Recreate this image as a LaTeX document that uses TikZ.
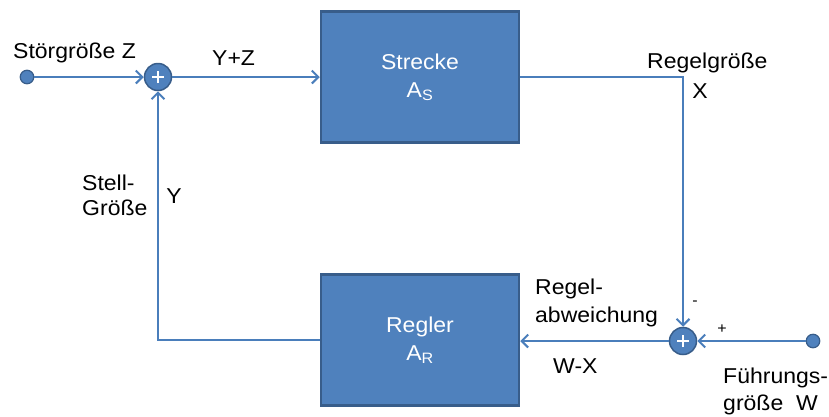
\documentclass[tikz,border=0pt]{standalone}
\usepackage{fontspec}
\setmainfont{Liberation Sans}[FakeStretch=1.07]
\usetikzlibrary{arrows.meta}
\definecolor{boxfill}{HTML}{4F81BD}
\definecolor{boxedge}{HTML}{385D8A}
\definecolor{wire}{HTML}{4A7EBB}
\begin{document}
\begin{tikzpicture}[x=1pt,y=-1pt,
  block/.style={draw=boxedge, line width=2.5pt, fill=boxfill,
    minimum width=198pt, minimum height=131pt, inner sep=0pt,
    text=white, align=center, font=\fontsize{21.5}{28}\selectfont},
  sumnode/.style={circle, draw=boxedge, line width=1.5pt, fill=boxfill,
    minimum size=27pt, inner sep=0pt},
  port/.style={circle, draw=boxedge, line width=1.2pt, fill=boxfill,
    minimum size=13.5pt, inner sep=0pt},
  wire/.style={draw=wire, line width=2pt},
  arr/.style={wire, -{Straight Barb[length=6.5pt,width=13pt,line width=2pt]}},
  lbl/.style={font=\fontsize{21.5}{25}\selectfont, inner sep=0pt, anchor=base west},
  sign/.style={font=\fontsize{15}{15}\selectfont, inner sep=0pt}
]
\useasboundingbox (0,0) rectangle (829,416);

% blocks
\node[block] (strecke) at (420,77) {Strecke\\A\textsubscript{S}};
\node[block] (regler) at (420,340) {Regler\\A\textsubscript{R}};

% summing points
\node[sumnode] (sum1) at (158,77) {};
\node[sumnode] (sum2) at (683,341) {};
\foreach \s in {sum1,sum2}{
  \draw[white, line width=2.5pt] ([xshift=-6pt]\s.center) -- ([xshift=6pt]\s.center);
  \draw[white, line width=2.5pt] ([yshift=-6pt]\s.center) -- ([yshift=6pt]\s.center);
}

% input terminals
\node[port] (zdot) at (27,77) {};
\node[port] (wdot) at (813,341) {};

% signal flow
\draw[arr] (zdot) -- (sum1);
\draw[arr] (sum1) -- (strecke.west);
\draw[arr] (strecke.east) -| (sum2.north);
\draw[arr] (wdot) -- (sum2);
\draw[arr] (sum2.west) -- (sum2.west -| regler.east);
\draw[arr] (regler.west) -| (sum1.south);

% labels
\node[lbl] (lz) at (13,58) {Störgröße Z};
\node[lbl] (lyz) at (212,65) {Y+Z};
\node[lbl] (lx1) at (647,68) {Regelgröße};
\node[lbl, anchor=base] (lx2) at (700,98) {X};
\node[lbl] (ls1) at (82,190) {Stell-};
\node[lbl] (ls2) at (82,215) {Größe};
\node[lbl, anchor=base] (ly) at (174,203) {Y};
\node[lbl] (le1) at (535,294) {Regel-};
\node[lbl] (le2) at (535,322) {abweichung};
\node[lbl] (lwx) at (553,373) {W-X};
\node[sign] (minus) at (695,303) {-};
\node[sign] (plus) at (722,329) {+};
\node[lbl] (lw1) at (723,383) {Führungs-};
\node[lbl] (lw2) at (723,410) {größe\ \ W};
\end{tikzpicture}
\end{document}
